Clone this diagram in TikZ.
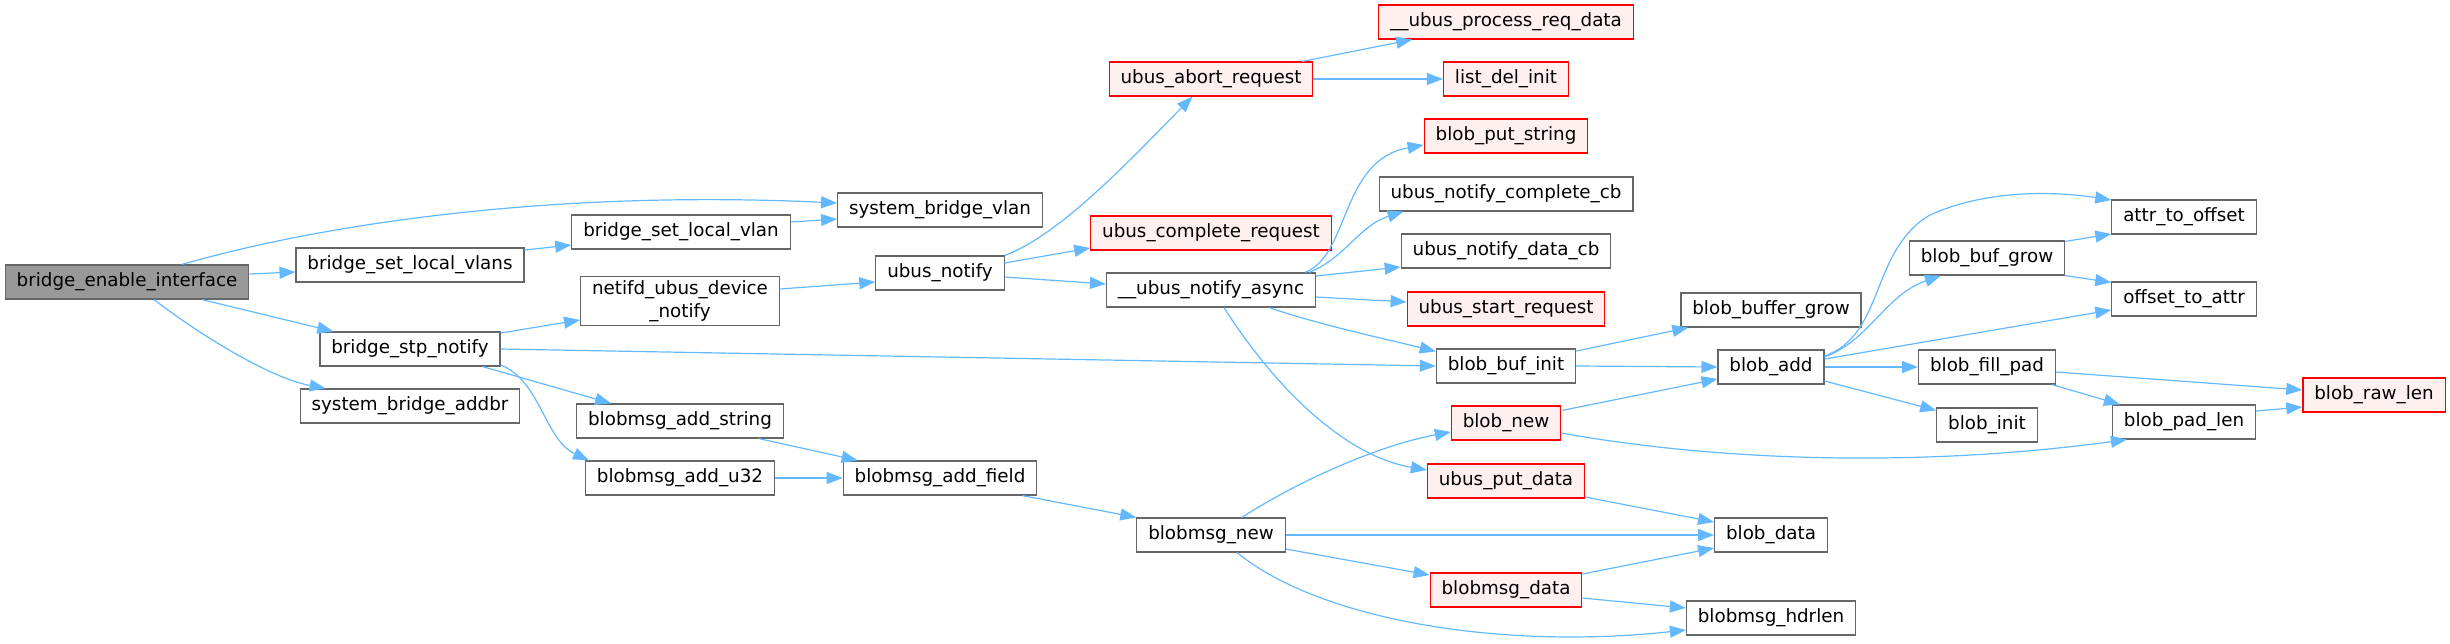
\documentclass[tikz,border=0pt]{standalone}
\usepackage{fontspec}
\setmainfont{DejaVu Sans}
\usetikzlibrary{arrows.meta,calc}
\definecolor{edgeblue}{HTML}{63B8FF}
\definecolor{nborder}{HTML}{666666}
\definecolor{redfill}{HTML}{FFF0F0}
\definecolor{grayfill}{HTML}{999999}
\begin{document}
\begin{tikzpicture}[x=0.5pt,y=-0.5pt,
  fn/.style={draw=nborder, fill=white, line width=0.6pt, minimum height=17pt, inner xsep=5.7pt, inner ysep=2pt, font=\fontsize{9.15}{11.5}\selectfont},
  rn/.style={fn, draw=red, fill=redfill},
  gn/.style={fn, fill=grayfill},
  edg/.style={draw=edgeblue, line width=0.6pt, -{Triangle[length=8pt,width=6pt]}}]
\useasboundingbox (0,0) rectangle (2450,643);
% nodes
\node[gn] (bee) at (127,282) {bridge\_enable\_interface};
\node[fn] (bslvs) at (410,265) {bridge\_set\_local\_vlans};
\node[fn] (bsn) at (410,349) {bridge\_stp\_notify};
\node[fn] (sba) at (410,406) {system\_bridge\_addbr};
\node[fn] (sbv) at (940,210) {system\_bridge\_vlan};
\node[fn] (bslv) at (681,232) {bridge\_set\_local\_vlan};
\node[fn, align=center] (nudn) at (680,301) {netifd\_ubus\_device\\\_notify};
\node[fn] (un) at (940,273) {ubus\_notify};
\node[fn] (bmas) at (680,421) {blobmsg\_add\_string};
\node[fn] (bmau) at (680,478) {blobmsg\_add\_u32};
\node[fn] (bmaf) at (940,478) {blobmsg\_add\_field};
\node[rn] (uar) at (1211,79) {ubus\_abort\_request};
\node[rn] (ucr) at (1211,233) {ubus\_complete\_request};
\node[fn] (una) at (1211,290) {\_\_ubus\_notify\_async};
\node[fn] (bmn) at (1211,535) {blobmsg\_new};
\node[rn] (upr) at (1506,22) {\_\_ubus\_process\_req\_data};
\node[rn] (ldi) at (1506,79) {list\_del\_init};
\node[rn] (bps) at (1506,136) {blob\_put\_string};
\node[fn] (uncc) at (1506,194) {ubus\_notify\_complete\_cb};
\node[fn] (undc) at (1506,251) {ubus\_notify\_data\_cb};
\node[rn] (usr) at (1506,309) {ubus\_start\_request};
\node[fn] (bbi) at (1506,366) {blob\_buf\_init};
\node[rn] (bn) at (1506,423) {blob\_new};
\node[rn] (upd) at (1506,481) {ubus\_put\_data};
\node[rn] (bmd) at (1506,590) {blobmsg\_data};
\node[fn] (bbuf) at (1771,310) {blob\_buffer\_grow};
\node[fn] (ba) at (1771,367) {blob\_add};
\node[fn] (bd) at (1771,535) {blob\_data};
\node[fn] (bmh) at (1771,618) {blobmsg\_hdrlen};
\node[fn] (ato) at (2184,217) {attr\_to\_offset};
\node[fn] (bbgrow) at (1987,258) {blob\_buf\_grow};
\node[fn] (ota) at (2184,299) {offset\_to\_attr};
\node[fn] (bfp) at (1987,367) {blob\_fill\_pad};
\node[fn] (bi) at (1987,425) {blob\_init};
\node[fn] (bpl) at (2184,422) {blob\_pad\_len};
\node[rn] (brl) at (2374,395) {blob\_raw\_len};
% edges
\draw[edg] ($(bee.north)+(55,0)$) .. controls (330,222) and (560,190) .. ($(sbv.west)+(0,-7)$);
\draw[edg] ($(bee.east)+(0,-8)$) -- ($(bslvs.west)+(0,7)$);
\draw[edg] ($(bee.south)+(75,0)$) -- ($(bsn.north west)+(14,0)$);
\draw[edg] ($(bee.south)+(27,0)$) .. controls (200,335) and (270,378) .. ($(sba.north west)+(26,0)$);
\draw[edg] ($(bslvs.east)+(0,-15)$) -- ($(bslv.west)+(0,13)$);
\draw[edg] ($(bslv.east)+(0,-10)$) -- ($(sbv.west)+(0,9)$);
\draw[edg] ($(bsn.east)+(0,-16)$) -- ($(nudn.west)+(0,19)$);
\draw[edg] (bsn.east) -- (bbi.west);
\draw[edg] ($(bsn.south east)+(-18,0)$) -- ($(bmas.north west)+(35,0)$);
\draw[edg] ($(bsn.east)+(0,16)$) .. controls (540,380) and (545,440) .. ($(bmau.north west)+(4,0)$);
\draw[edg] ($(nudn.east)+(0,-12)$) -- ($(un.west)+(0,9)$);
\draw[edg] (un.north east) .. controls (1060,235) and (1130,160) .. ($(uar.south west)+(84,0)$);
\draw[edg] ($(un.east)+(0,-10)$) -- ($(ucr.west)+(0,15)$);
\draw[edg] ($(un.east)+(0,4)$) -- ($(una.west)+(0,-6)$);
\draw[edg] ($(uar.north east)+(-11,0)$) -- ($(upr.south west)+(34,0)$);
\draw[edg] (uar.east) -- (ldi.west);
\draw[edg] ($(una.north east)+(-11,0)$) .. controls (1350,255) and (1340,160) .. ($(bps.west)+(0,9)$);
\draw[edg] ($(una.north east)+(-7,0)$) .. controls (1345,258) and (1360,225) .. ($(uncc.south west)+(25,0)$);
\draw[edg] ($(una.east)+(0,-14)$) -- ($(undc.west)+(0,16)$);
\draw[edg] ($(una.east)+(0,7)$) -- ($(usr.west)+(0,-7)$);
\draw[edg] ($(una.south east)+(-47,0)$) .. controls (1320,325) and (1390,340) .. ($(bbi.north west)+(0,3)$);
\draw[edg] ($(una.south)+(13,0)$) .. controls (1270,380) and (1340,455) .. ($(upd.west)+(0,-11)$);
\draw[edg] ($(bbi.east)+(0,-15)$) -- ($(bbuf.south west)+(8,0)$);
\draw[edg] (bbi.east) -- (ba.west);
\draw[edg] ($(ba.east)+(0,-11)$) .. controls (1885,335) and (1870,250) .. (1930,215) .. controls (1990,188) and (2060,192) .. ($(ato.west)+(0,-17)$);
\draw[edg] ($(ba.east)+(0,-10)$) .. controls (1870,340) and (1885,295) .. ($(bbgrow.south west)+(32,0)$);
\draw[edg] ($(ba.east)+(0,-8)$) -- ($(ota.west)+(0,11)$);
\draw[edg] (ba.east) -- (bfp.west);
\draw[edg] ($(ba.east)+(0,14)$) -- ($(bi.north west)+(0,3)$);
\draw[edg] ($(bbgrow.north east)+(0,1)$) -- ($(ato.west)+(0,17)$);
\draw[edg] (bbgrow.south east) -- ($(ota.north west)+(0,1)$);
\draw[edg] ($(bfp.east)+(0,5)$) -- ($(brl.west)+(0,-5)$);
\draw[edg] ($(bfp.south east)+(-4,0)$) -- ($(bpl.north west)+(8,0)$);
\draw[edg] ($(bpl.east)+(0,-11)$) -- ($(brl.west)+(0,12)$);
\draw[edg] ($(bn.north east)+(1,5)$) -- ($(ba.west)+(0,12)$);
\draw[edg] ($(bn.east)+(0,10)$) .. controls (1700,458) and (1900,470) .. ($(bpl.south west)+(15,0)$);
\draw[edg] ($(upd.east)+(0,16)$) -- ($(bd.west)+(0,-13)$);
\draw[edg] ($(bmas.south east)+(-25,0)$) -- ($(bmaf.north west)+(15,0)$);
\draw[edg] (bmau.east) -- (bmaf.west);
\draw[edg] ($(bmaf.south east)+(-15,0)$) -- (bmn.north west);
\draw[edg] ($(bmn.north east)+(-44,0)$) .. controls (1300,480) and (1380,445) .. ($(bn.west)+(0,9)$);
\draw[edg] (bmn.east) -- (bd.west);
\draw[edg] ($(bmn.east)+(0,14)$) -- ($(bmd.west)+(0,-15)$);
\draw[edg] ($(bmn.south)+(26,0)$) .. controls (1320,620) and (1500,650) .. ($(bmh.west)+(0,12)$);
\draw[edg] ($(bmd.east)+(0,-16)$) -- ($(bd.west)+(0,13)$);
\draw[edg] ($(bmd.east)+(0,8)$) -- ($(bmh.west)+(0,-10)$);
\end{tikzpicture}
\end{document}
